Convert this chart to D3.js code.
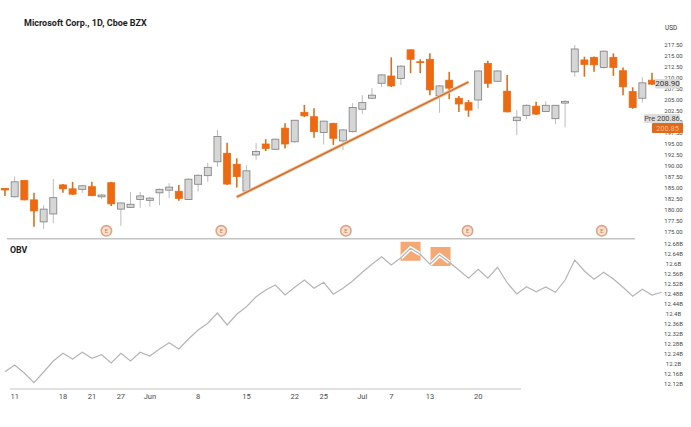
<!DOCTYPE html>
<html><head><meta charset="utf-8">
<script src="https://cdn.jsdelivr.net/npm/d3@7"></script>
<style>html,body{margin:0;padding:0;background:#fff}svg{display:block;font-family:Roboto,sans-serif}</style>
</head><body><svg id="c" width="691" height="427"></svg>
<script>
const opens=[184.9,183.0,186.7,182.3,177.3,179.1,185.7,184.8,184.7,185.3,183.0,186.2,180.2,180.6,182.4,182.2,183.9,184.5,184.25,182.4,185.85,187.8,190.95,192.9,190.4,184.3,192.5,195,193.8,198.6,195.5,202.2,201.2,197.6,199.7,195.7,197.8,202.9,205.4,208.8,210.45,209.9,216.4,213.7,214.25,206,209.5,205.4,204.4,205,213.3,209.25,207,200.3,201.5,203.6,202.4,200.75,204.3,211.4,214.1,214.7,212.4,214.7,211.65,206.9,205.4,209.5];
const closes=[184.55,186.4,182.3,179.8,180.2,182.8,184.8,183.6,185.5,183.25,183.4,181.4,181.6,181.3,183.2,182.7,184.7,185.2,182.65,187,187.9,189.7,196.7,185.9,187.6,188.9,193.3,194,196.1,195,200.4,201.4,197.8,200.2,196.3,198.2,203.3,204.4,206.1,210.7,208.2,212.7,214.25,213.5,207.3,208.2,207.7,204.1,202.7,211.6,208.8,211.6,202.3,201.1,203.8,201.8,203.8,203.8,204.7,216.6,213.1,213,216.1,212.4,208,203.3,208.9,208.6];
const highs=[185,187.6,186.8,183.9,181.1,187.05,185.9,186.4,185.7,186.4,183.6,186.4,181.7,184.1,184.1,183,184.9,186.1,185.7,187.2,188.1,190.7,198.2,195.3,191.75,190.2,195.2,196.1,196.2,199.7,200.5,203.9,203.1,200.3,199.8,198.4,204.3,206.1,207.7,210.9,214.7,212.95,216.5,214.25,215.6,208.4,211.4,205.9,205,211.7,213.9,211.8,210.7,202.7,204,204.6,204.7,203.85,204.9,217.5,214.85,214.9,216.25,215.6,212.4,207.9,210.15,211.2];
const lows=[183.2,182.8,182.2,176.2,175.7,177,183.9,183.4,183.9,183.2,182.5,180.9,176.4,180.5,180.5,180.75,181.1,182.7,182.1,182.3,184.2,186.4,189.8,185.7,185.1,184.1,191.4,193.4,193.6,194,195.3,201.1,196.4,194.9,194.8,193.6,197.6,201.8,205.2,207.9,207.95,208.4,211.1,211.1,206.1,202.1,205.2,202.3,201.2,203,207.8,209.1,202.2,197,200.6,201.6,202.3,199.5,198.8,210.3,210.3,211.4,212.15,210.5,206.1,203,204.4,208.4];
const obv=[12.169,12.196,12.164,12.125,12.168,12.212,12.243,12.22,12.247,12.223,12.237,12.204,12.243,12.212,12.247,12.232,12.26,12.285,12.26,12.30,12.336,12.363,12.404,12.356,12.399,12.429,12.469,12.496,12.516,12.476,12.507,12.536,12.503,12.527,12.479,12.503,12.532,12.567,12.599,12.629,12.596,12.625,12.663,12.639,12.599,12.636,12.607,12.576,12.543,12.579,12.543,12.587,12.525,12.48,12.509,12.489,12.508,12.487,12.536,12.616,12.572,12.539,12.567,12.54,12.507,12.471,12.499,12.476,12.487];
const priceTicks=[217.5,215,212.5,210,207.5,205,202.5,200,197.5,195,192.5,190,187.5,185,182.5,180,177.5,175];
const obvTicks=[12.68,12.64,12.6,12.56,12.52,12.48,12.44,12.4,12.36,12.32,12.28,12.24,12.2,12.16,12.12];
const dateIdx=[1,6,9,12,15,20,25,30,33,37,40,44,49];
const dateLabels=["11","18","21","27","Jun","8","15","22","25","Jul","7","13","20"];
const eventIdx=[10.5,22.4,35.3,47.9,61.8];
const trendIdx=[24,48], trendVal=[182.95,209.1];
const markIdx=[42,45];

const svg=d3.select("#c");
const x=d3.scaleLinear().domain([0,67]).range([5,652]);
const y=d3.scaleLinear().domain([217.5,175]).range([45,232]);
const yo=d3.scaleLinear().domain([12.68,12.12]).range([244,384]);
const GRAY="#d6d6d6",EDGE="#7d7d7d",OR="#ed6a12";

svg.append("text").attr("x",24).attr("y",25.5).attr("font-size",9).attr("font-weight",700).attr("fill","#1c1c1c").text("Microsoft Corp., 1D, Cboe BZX");
svg.append("text").attr("x",10).attr("y",253).attr("font-size",8.8).attr("font-weight",700).attr("fill","#1c1c1c").text("OBV");
svg.append("text").attr("x",665).attr("y",29.5).attr("font-size",6.4).attr("fill","#333").text("USD");

// wicks and bodies
const idx=d3.range(opens.length);
const g=svg.append("g");
g.selectAll("line.w").data(idx).join("line").attr("x1",x).attr("x2",x)
 .attr("y1",i=>y(highs[i])).attr("y2",i=>y(lows[i]))
 .attr("stroke",i=>closes[i]>opens[i]?"#bcbcbc":"#d9701f").attr("stroke-width",i=>closes[i]>opens[i]?1:1.6);
g.selectAll("rect.b").data(idx).join("rect").attr("x",i=>x(i)-3.5).attr("width",7)
 .attr("y",i=>y(Math.max(opens[i],closes[i])))
 .attr("height",i=>Math.abs(y(opens[i])-y(closes[i])))
 .attr("fill",i=>closes[i]>opens[i]?GRAY:OR)
 .attr("stroke",i=>closes[i]>opens[i]?EDGE:OR).attr("stroke-width",.8);

// trend line
const tl=d3.line().x(d=>x(d[0])).y(d=>y(d[1]));
const tp=d3.zip(trendIdx,trendVal);
svg.append("path").attr("d",tl(tp)).attr("stroke","#f7cfae").attr("stroke-width",3.4).attr("fill","none");
svg.append("path").attr("d",tl(tp)).attr("stroke","#cf7434").attr("stroke-width",1.8).attr("fill","none");

// dividers
svg.append("line").attr("x1",7).attr("x2",635).attr("y1",238.7).attr("y2",238.7).attr("stroke","#c4c4c4").attr("stroke-width",1.4);
svg.append("line").attr("x1",10).attr("x2",521).attr("y1",389).attr("y2",389).attr("stroke","#c4c4c4").attr("stroke-width",1.2);

// events
eventIdx.forEach(i=>{
 const cx=x(i);
 svg.append("circle").attr("cx",cx).attr("cy",230.8).attr("r",5.2).attr("fill","#f8dfd0").attr("stroke","#e0a585").attr("stroke-width",1.6);
 svg.append("text").attr("x",cx).attr("y",232.8).attr("text-anchor","middle").attr("font-size",5.5).attr("fill","#c07a50").text("E");
});

// OBV
const ol=d3.line().x((d,i)=>x(i)).y(d=>yo(d));
const marks=svg.append("g");
markIdx.forEach((i,k)=>{
 marks.append("rect").attr("x",x(i)-10+k).attr("width",20).attr("y",yo(obv[i])-(k===0?6.5:8)).attr("height",19).attr("fill","#f4a873");
});
markIdx.forEach((m,k)=>{
 const seg=[m-1,m,m+1].map(i=>[x(i),yo(obv[i])]);
 const cid="cl"+k;
 svg.append("clipPath").attr("id",cid).append("rect").attr("x",x(m)-10+k).attr("width",20).attr("y",yo(obv[m])-10).attr("height",24);
 svg.append("path").attr("d",d3.line()(seg)).attr("stroke","#fff").attr("stroke-width",4).attr("fill","none").attr("clip-path",`url(#${cid})`);
});
svg.append("path").attr("d",ol(obv)).attr("fill","none").attr("stroke","#b5b5b5").attr("stroke-width",1.2);

// axes
const fmt=d3.format(".2f");
svg.append("g").selectAll("text").data(priceTicks).join("text").attr("x",673.5).attr("y",d=>y(d)+2.3)
 .attr("text-anchor","middle").attr("font-size",6).attr("fill","#4a4a4a").text(fmt);
svg.append("g").selectAll("text").data(obvTicks).join("text").attr("x",673.5).attr("y",d=>yo(d)+2.2)
 .attr("text-anchor","middle").attr("font-size",6).attr("fill","#4a4a4a").text(d=>d+"B");
svg.append("g").selectAll("text").data(dateIdx).join("text").attr("x",(d,i)=>x(d)).attr("y",398.7)
 .attr("text-anchor","middle").attr("font-size",7.5).attr("fill","#4a4a4a").text((d,i)=>dateLabels[i]);

// price tags
const tag=(x0,y0,w,h,fill,txt,col,tx,fs)=>{
 svg.append("rect").attr("x",x0).attr("y",y0).attr("width",w).attr("height",h).attr("fill",fill).attr("rx",1);
 svg.append("text").attr("x",tx).attr("y",y0+h/2+2.7).attr("text-anchor","middle").attr("font-size",fs).attr("fill",col).text(txt);
};
tag(655,79,25,9.5,"#dcdcdc","208.90","#333",667.5,8);
tag(644,114,36,9,"#dedede","Pre 200.86","#444",662,7.4);
tag(652,123,31,10,"#e2691a","200.85","#f7b88a",667.5,7.4);
</script></body></html>
